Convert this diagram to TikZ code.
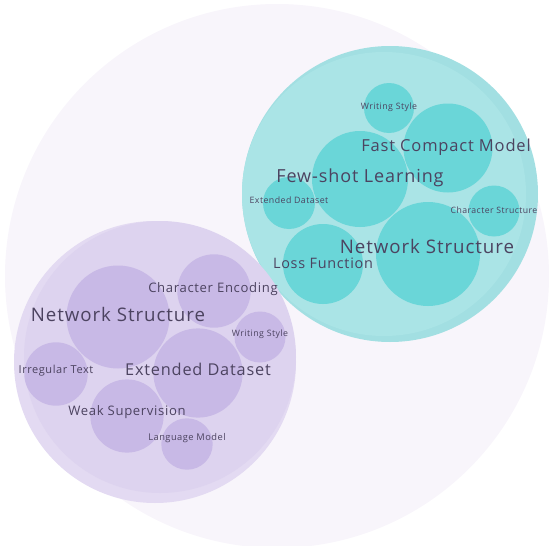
\documentclass[tikz,border=0pt]{standalone}
\usepackage{fontspec}
\newfontfamily\lblfont[LetterSpace=5]{Open Sans}
\usepackage{tikz}

\definecolor{outerfill}{HTML}{F8F5FB}
\definecolor{tealrim}{HTML}{A2DFE2}
\definecolor{tealbig}{HTML}{AAE4E6}
\definecolor{tealsmall}{HTML}{6AD6D8}
\definecolor{lilarim}{HTML}{E3DAF2}
\definecolor{lilabig}{HTML}{DDD3EF}
\definecolor{lilasmall}{HTML}{C8B9E6}
\definecolor{lbltext}{HTML}{4C4360}

\begin{document}
\begin{tikzpicture}[x=1pt,y=-1pt,
    bubble/.style={circle,inner sep=0pt,minimum size=2*#1},
    tealcirc/.style={bubble=#1,fill=tealsmall},
    lilacirc/.style={bubble=#1,fill=lilasmall},
    lbl/.style={text=lbltext,inner sep=0pt,font=\lblfont\fontsize{#1}{#1}\selectfont}]
        \useasboundingbox (0,0) rectangle (550,546);
        % Hintergrund
        \node[bubble=272,fill=outerfill] (all) at (277,276) {};
        % Gruppe 1
        \node[bubble=148,fill=tealrim] (teal) at (390,194) {};
        \node[bubble=142,fill=tealbig] (teal-in) at (384,194) {};
        \node[tealcirc=25] (t-ws) at (389,108) {};
        \node[tealcirc=44.5] (t-fcm) at (448,148) {};
        \node[tealcirc=48] (t-fsl) at (360,179) {};
        \node[tealcirc=26] (t-ed) at (289,203) {};
        \node[tealcirc=25.5] (t-cs) at (494,211) {};
        \node[tealcirc=52] (t-ns) at (428,254) {};
        \node[tealcirc=40] (t-lf) at (323,264) {};
        % Gruppe 2
        \node[bubble=141,fill=lilarim] (lila) at (155,362) {};
        \node[bubble=136,fill=lilabig] (lila-in) at (160,357) {};
        \node[lilacirc=51.5] (l-ns) at (118,317) {};
        \node[lilacirc=36.7] (l-ce) at (214,291) {};
        \node[lilacirc=25.5] (l-ws) at (260,337) {};
        \node[lilacirc=44.6] (l-ed) at (198,373) {};
        \node[lilacirc=31.7] (l-it) at (56,374) {};
        \node[lilacirc=36.6] (l-wsu) at (127,416) {};
        \node[lilacirc=25.7] (l-lm) at (187,444) {};
        % Beschriftung 1
        \node[lbl=8.8] at ([yshift=1pt]t-ws) {Writing Style};
        \node[lbl=16.5] at ([xshift=-2pt,yshift=1pt]t-fcm) {Fast Compact Model};
        \node[lbl=18] at ([yshift=1pt]t-fsl) {Few-shot Learning};
        \node[lbl=8.8] at ([yshift=3pt]t-ed) {Extended Dataset};
        \node[lbl=8.7] at ([yshift=1pt]t-cs) {Character Structure};
        \node[lbl=18.7] at ([xshift=-1pt,yshift=8pt]t-ns) {Network Structure};
        \node[lbl=14.4] at ([yshift=1pt]t-lf) {Loss Function};
        % Beschriftung 2
        \node[lbl=18.7] at ([yshift=3pt]l-ns) {Network Structure};
        \node[lbl=13.1] at ([xshift=-1pt,yshift=2pt]l-ce) {Character Encoding};
        \node[lbl=8.8] at ([yshift=3pt]l-ws) {Writing Style};
        \node[lbl=16.3] at ([yshift=4pt]l-ed) {Extended Dataset};
        \node[lbl=11] at ([yshift=3pt]l-it) {Irregular Text};
        \node[lbl=13.1] at ([yshift=4pt]l-wsu) {Weak Supervision};
        \node[lbl=9.3] at ([yshift=6pt]l-lm) {Language Model};
\end{tikzpicture}
\end{document}
